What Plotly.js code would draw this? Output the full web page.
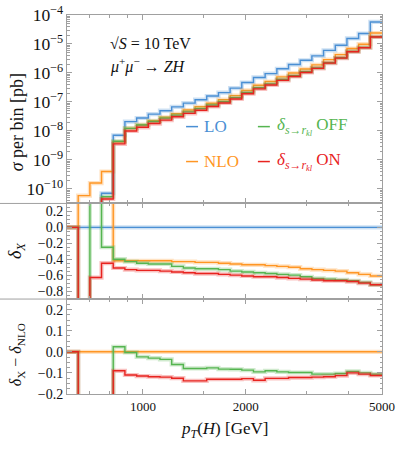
<!DOCTYPE html>
<html><head><meta charset="utf-8">
<script src="https://cdn.plot.ly/plotly-3.0.1.min.js"></script>
<style>body{margin:0;background:#fff}</style></head>
<body><div id="chart" style="width:399px;height:449px"></div>
<script>
// bin edges in pT(H) [GeV]
const binEdges = [598, 647, 700, 757, 819, 886, 959, 1037, 1122, 1214, 1313, 1421, 1537, 1663, 1799, 1946, 2105, 2277, 2464, 2665, 2883, 3119, 3374, 3651, 3949, 4272, 4622, 5000];

// top panel: sigma per bin [pb]
const sigLO  = [1e-12, 1e-12, 1e-12, 7.1e-11, 7.1e-9, 2.1e-8, 2.8e-8, 3.8e-8, 5.0e-8, 6.8e-8, 9.1e-8, 1.2e-7, 1.6e-7, 2.1e-7, 3.0e-7, 4.7e-7, 7.0e-7, 9.5e-7, 1.4e-6, 1.95e-6, 2.75e-6, 3.9e-6, 6.0e-6, 9.1e-6, 1.55e-5, 2.3e-5, 5.75e-5];
const sigNLO = [1e-12, 5.9e-11, 1.6e-10, 4.0e-10, 4.25e-9, 1.23e-8, 1.66e-8, 2.24e-8, 2.96e-8, 3.92e-8, 5.28e-8, 6.85e-8, 9.0e-8, 1.2e-7, 1.66e-7, 2.52e-7, 3.78e-7, 5.06e-7, 7.35e-7, 9.95e-7, 1.38e-6, 1.9e-6, 2.89e-6, 4.29e-6, 6.97e-6, 9.84e-6, 2.38e-5];
const sigOFF = [1e-12, 1e-12, 1e-12, 5.4e-11, 4.4e-9, 1.23e-8, 1.6e-8, 2.13e-8, 2.78e-8, 3.52e-8, 4.56e-8, 5.9e-8, 7.83e-8, 1.02e-7, 1.41e-7, 2.12e-7, 3.11e-7, 4.2e-7, 6.0e-7, 8.0e-7, 1.11e-6, 1.49e-6, 2.25e-6, 3.35e-6, 5.53e-6, 7.57e-6, 1.78e-5];
const sigON  = [1e-12, 1e-12, 1e-12, 4.5e-11, 3.6e-9, 1.0e-8, 1.34e-8, 1.8e-8, 2.36e-8, 3.08e-8, 4.03e-8, 5.19e-8, 6.97e-8, 9.2e-8, 1.27e-7, 1.93e-7, 2.83e-7, 3.85e-7, 5.56e-7, 7.57e-7, 1.04e-6, 1.44e-6, 2.18e-6, 3.26e-6, 5.42e-6, 7.43e-6, 1.74e-5];

// middle panel: delta_X
const dLO  = [0, 0, 0, 0, 0, 0, 0, 0, 0, 0, 0, 0, 0, 0, 0, 0, 0, 0, 0, 0, 0, 0, 0, 0, 0, 0, 0];
const dNLO = [0, 5, 5, 5, -0.42, -0.42, -0.42, -0.42, -0.42, -0.43, -0.43, -0.44, -0.44, -0.45, -0.46, -0.47, -0.47, -0.48, -0.49, -0.50, -0.52, -0.53, -0.54, -0.55, -0.57, -0.59, -0.61];
const dOFF = [0, -1.5, 5, -0.25, -0.40, -0.43, -0.45, -0.46, -0.46, -0.49, -0.51, -0.52, -0.52, -0.53, -0.55, -0.56, -0.57, -0.58, -0.59, -0.60, -0.62, -0.64, -0.65, -0.66, -0.67, -0.69, -0.72];
const dON  = [0, -1.5, -0.63, -0.45, -0.51, -0.53, -0.54, -0.54, -0.55, -0.56, -0.57, -0.58, -0.58, -0.59, -0.60, -0.61, -0.62, -0.62, -0.63, -0.64, -0.65, -0.66, -0.67, -0.67, -0.68, -0.70, -0.72];

// bottom panel: delta_X - delta_NLO
const rNLO = [0, 0, 0, 0, 0, 0, 0, 0, 0, 0, 0, 0, 0, 0, 0, 0, 0, 0, 0, 0, 0, 0, 0, 0, 0, 0, 0];
const rOFF = [0, -5, -5, -5, 0.024, -0.003, -0.024, -0.03, -0.036, -0.06, -0.079, -0.079, -0.076, -0.082, -0.083, -0.087, -0.095, -0.09, -0.095, -0.098, -0.098, -0.106, -0.106, -0.103, -0.093, -0.10, -0.106];
const rON  = [0, -5, -5, -5, -0.09, -0.11, -0.115, -0.118, -0.12, -0.125, -0.138, -0.138, -0.13, -0.13, -0.13, -0.127, -0.135, -0.126, -0.126, -0.122, -0.122, -0.12, -0.118, -0.113, -0.10, -0.106, -0.112];

const cLO = '#4a8fd4', cNLO = '#ff9624', cOFF = '#55b550', cON = '#e8231f';
const FONT = 'Liberation Serif';

function step(vals, color, xa, ya, halo) {
  return {
    x: binEdges, y: vals.concat([vals[vals.length - 1]]),
    mode: 'lines', xaxis: xa, yaxis: ya, hoverinfo: 'skip', showlegend: false,
    line: {shape: 'hv', color: color, width: halo ? 4.2 : 1.4},
    opacity: halo ? 0.28 : 1
  };
}
const panels = [
  ['x', 'y', [[sigLO, cLO], [sigNLO, cNLO], [sigOFF, cOFF], [sigON, cON]]],
  ['x2', 'y2', [[dLO, cLO], [dNLO, cNLO], [dOFF, cOFF], [dON, cON]]],
  ['x3', 'y3', [[rNLO, cNLO], [rOFF, cOFF], [rON, cON]]]
];
const data = [];
panels.forEach(([xa, ya, ser]) => {
  ser.forEach(([v, c]) => { data.push(step(v, c, xa, ya, true)); data.push(step(v, c, xa, ya, false)); });
});

const frame = '#a0a0a0';
const xr = [Math.log10(600), Math.log10(5000)];
function xax(anchor, labels) {
  return {
    type: 'log', range: xr, anchor: anchor, domain: [0, 1],
    tickmode: 'array', tickvals: [1000, 2000, 5000], ticktext: ['1000', '2000', '5000'],
    showticklabels: labels, ticks: 'inside', ticklen: 5, tickwidth: 1, tickcolor: frame,
    minor: {tickmode: 'array', tickvals: [700, 800, 900, 1500, 3000, 4000], ticks: 'inside', ticklen: 3, tickcolor: frame},
    showline: true, linecolor: frame, linewidth: 1, mirror: 'ticks',
    showgrid: false, zeroline: false, tickfont: {family: FONT, size: 13, color: '#111'}
  };
}
const yCommon = {ticks: 'inside', ticklen: 5, tickcolor: frame, showline: true, linecolor: frame, mirror: 'ticks',
  showgrid: false, zeroline: false, tickfont: {family: FONT, size: 14, color: '#111'}};

const ann = (x, y, text, size, color, extra) => Object.assign({xref: 'paper', yref: 'paper', x: x, y: y,
  xanchor: 'left', yanchor: 'middle', showarrow: false, text: text, font: {family: FONT, size: size, color: color}}, extra || {});

const layout = {
  width: 399, height: 449,
  margin: {l: 67, r: 17, t: 15, b: 55},
  paper_bgcolor: '#fff', plot_bgcolor: '#fff',
  font: {family: FONT, color: '#111'},
  showlegend: false,
  xaxis: xax('y', false),
  xaxis2: Object.assign(xax('y2', false), {matches: 'x'}),
  xaxis3: Object.assign(xax('y3', true), {matches: 'x'}),
  yaxis: Object.assign({}, yCommon, {domain: [0.5028, 1], type: 'log', range: [-10.5, -4], dtick: 1, exponentformat: 'power',
    minor: {ticks: 'inside', ticklen: 2.5, tickcolor: frame}}),
  yaxis2: Object.assign({}, yCommon, {domain: [0.2505, 0.5028], range: [-0.9, 0.3], dtick: 0.2, tickformat: '.1f',
    minor: {ticks: 'inside', ticklen: 2.5, tickcolor: frame, dtick: 0.05}}),
  yaxis3: Object.assign({}, yCommon, {domain: [0, 0.2505], range: [-0.2, 0.25], dtick: 0.1, tickformat: '.1f',
    minor: {ticks: 'inside', ticklen: 2.5, tickcolor: frame, dtick: 0.025}}),
  shapes: [
    {type: 'line', xref: 'paper', yref: 'paper', x0: -0.2127, x1: 1, y0: 0.5028, y1: 0.5028, line: {color: frame, width: 1}},
    {type: 'line', xref: 'paper', yref: 'paper', x0: -0.2127, x1: 1, y0: 0.2505, y1: 0.2505, line: {color: frame, width: 1}},
    {type: 'line', xref: 'paper', yref: 'paper', x0: 0.378, x1: 0.416, y0: 0.7055, y1: 0.7055, line: {color: cLO, width: 1.5}},
    {type: 'line', xref: 'paper', yref: 'paper', x0: 0.378, x1: 0.416, y0: 0.6133, y1: 0.6133, line: {color: cNLO, width: 1.5}},
    {type: 'line', xref: 'paper', yref: 'paper', x0: 0.606, x1: 0.644, y0: 0.7055, y1: 0.7055, line: {color: cOFF, width: 1.5}},
    {type: 'line', xref: 'paper', yref: 'paper', x0: 0.606, x1: 0.644, y0: 0.6133, y1: 0.6133, line: {color: cON, width: 1.5}}
  ],
  annotations: [
    ann(0.13, 0.926, '√<i>S</i> = 10 TeV', 16, '#111'),
    ann(0.13, 0.868, '<i>μ</i><sup>+</sup><i>μ</i><sup>−</sup> → <i>ZH</i>', 16, '#111'),
    ann(0.43, 0.7055, 'LO', 17, cLO),
    ann(0.43, 0.6133, 'NLO', 17, cNLO),
    ann(0.66, 0.7055, '<i>δ</i><sub><i>s</i>→<i>r</i><sub><i>kl</i></sub></sub> OFF', 17, cOFF),
    ann(0.66, 0.6133, '<i>δ</i><sub><i>s</i>→<i>r</i><sub><i>kl</i></sub></sub> ON', 17, cON),
    ann(-0.158, 0.7175, '<i>σ</i> per bin [pb]', 18, '#111', {xanchor: 'center', textangle: -90}),
    ann(-0.158, 0.3776, '<i>δ</i><sub><i>X</i></sub>', 18, '#111', {xanchor: 'center', textangle: -90}),
    ann(-0.158, 0.103, '<i>δ</i><sub>X</sub> − <i>δ</i><sub>NLO</sub>', 16, '#111', {xanchor: 'center', textangle: -90}),
    ann(0.5, -0.095, '<i>p<sub>T</sub></i>(<i>H</i>) [GeV]', 17, '#111', {xanchor: 'center'})
  ]
};
Plotly.newPlot('chart', data, layout, {displayModeBar: false, staticPlot: true});
</script></body></html>
